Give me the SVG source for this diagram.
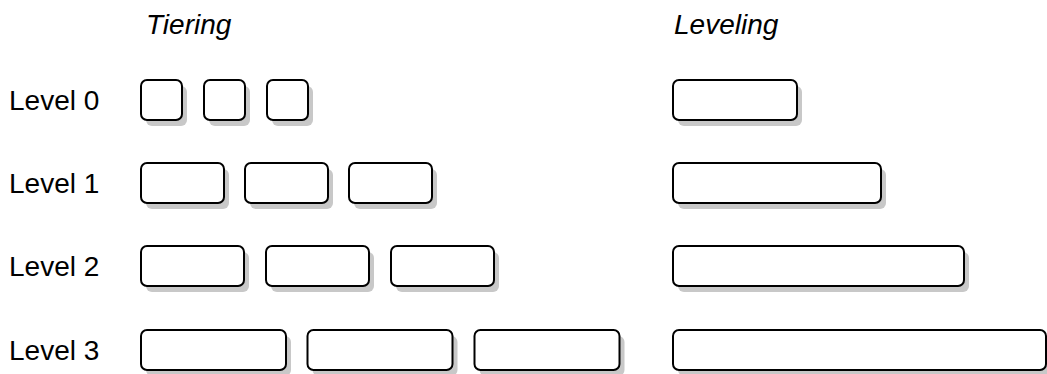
<svg xmlns="http://www.w3.org/2000/svg" width="1047" height="374" viewBox="0 0 1047 374">
<style>
.t{font-family:"Liberation Sans",Arial,sans-serif;font-size:28px;fill:#000}
.h{font-style:italic}
.sh{fill:#c8c8c8;stroke:none}
.b{fill:#fff;stroke:#000;stroke-width:2}
</style>
<defs>
<g id="b0"><rect class="sh" x="5" y="6" width="41" height="40" rx="6"/><rect class="b" width="41" height="40" rx="6"/></g>
<g id="b1"><rect class="sh" x="5" y="6" width="83" height="40" rx="6"/><rect class="b" width="83" height="40" rx="6"/></g>
<g id="b2"><rect class="sh" x="5" y="6" width="103" height="40" rx="6"/><rect class="b" width="103" height="40" rx="6"/></g>
<g id="b3"><rect class="sh" x="5" y="6" width="145" height="40" rx="6"/><rect class="b" width="145" height="40" rx="6"/></g>
</defs>
<rect width="1047" height="374" fill="#fff"/>
<g id="titles">
<text class="t h" x="146" y="34">Tiering</text>
<text class="t h" x="674" y="34">Leveling</text>
</g>
<g id="labels">
<text class="t" x="9" y="110">Level 0</text>
<text class="t" x="9" y="193">Level 1</text>
<text class="t" x="9" y="276">Level 2</text>
<text class="t" x="9" y="360">Level 3</text>
</g>
<g id="tiering-level0">
<use href="#b0" x="141" y="80"/><use href="#b0" x="204" y="80"/><use href="#b0" x="267" y="80"/>
</g>
<g id="tiering-level1">
<use href="#b1" x="141" y="163"/><use href="#b1" x="245" y="163"/><use href="#b1" x="349" y="163"/>
</g>
<g id="tiering-level2">
<use href="#b2" x="141" y="246"/><use href="#b2" x="266" y="246"/><use href="#b2" x="391" y="246"/>
</g>
<g id="tiering-level3">
<use href="#b3" x="141" y="330"/><use href="#b3" x="307.5" y="330"/><use href="#b3" x="474.5" y="330"/>
</g>
<g id="leveling-level0"><rect class="sh" x="678" y="86" width="124" height="40" rx="6"/><rect class="b" x="673" y="80" width="124" height="40" rx="6"/></g>
<g id="leveling-level1"><rect class="sh" x="678" y="169" width="208" height="40" rx="6"/><rect class="b" x="673" y="163" width="208" height="40" rx="6"/></g>
<g id="leveling-level2"><rect class="sh" x="678" y="252" width="291" height="40" rx="6"/><rect class="b" x="673" y="246" width="291" height="40" rx="6"/></g>
<g id="leveling-level3"><rect class="sh" x="678" y="336" width="374" height="40" rx="6"/><rect class="b" x="673" y="330" width="373" height="40" rx="6"/></g>
<g id="connectors"/>
</svg>
